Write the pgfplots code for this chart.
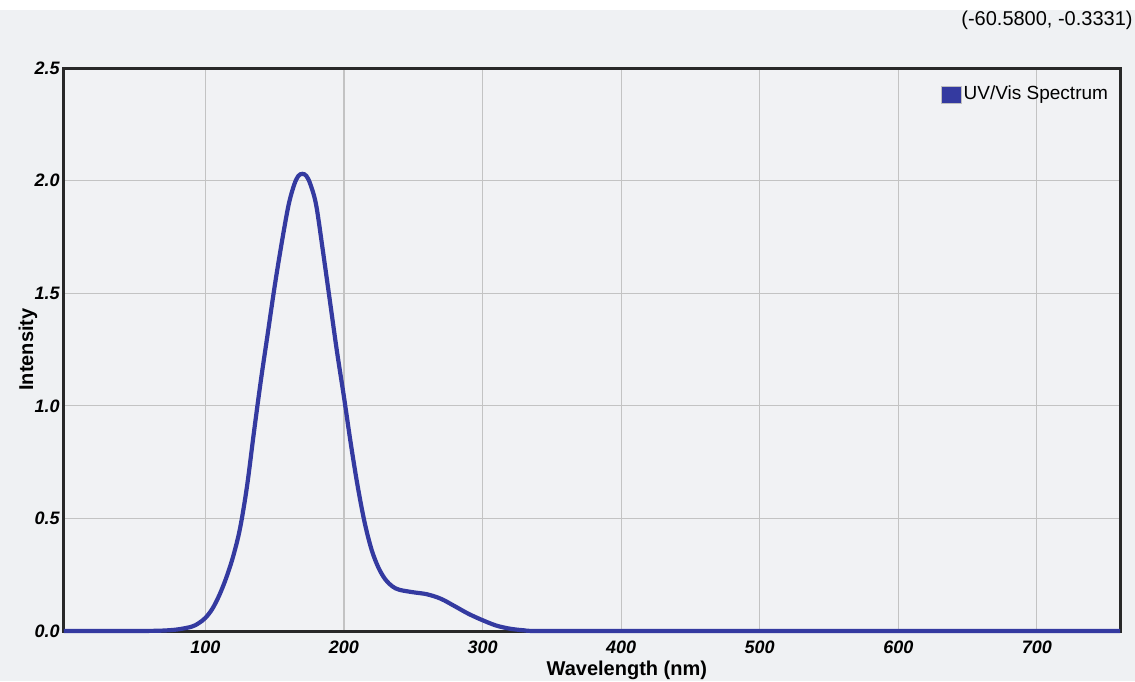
\documentclass[border=0pt]{standalone}
\usepackage{fontspec}
\setmainfont{Liberation Sans}
\usepackage{pgfplots}
\pgfplotsset{compat=1.18}

\definecolor{bgray}{RGB}{239,241,243}
\definecolor{plotbg}{RGB}{241,242,244}
\definecolor{uvblue}{RGB}{52,58,160}
\definecolor{gridgray}{RGB}{195,195,195}
\definecolor{axisdark}{RGB}{40,40,40}

\begin{document}
\begin{tikzpicture}
% page background (1 px = 0.5 pt)
\fill[white] (-32pt,-25pt) rectangle (535.5pt,315.5pt);
\fill[bgray] (-32pt,-25pt) rectangle (535.5pt,310.5pt);
\useasboundingbox (-32pt,-25pt) rectangle (535.5pt,315.5pt);

\begin{axis}[
    at={(0,0)}, anchor=south west,
    scale only axis,
    width=528pt, height=281.5pt,
    xmin=-2, xmax=760,
    ymin=0, ymax=2.5,
    xtick={100,200,...,700},
    ytick={0,0.5,...,2.5},
    major tick length=0pt,
    grid=major,
    grid style={gridgray, line width=0.6pt},
    axis line style={axisdark, line width=1.5pt},
    axis background/.style={fill=plotbg},
    clip=false,
    /pgf/number format/assume math mode=true,
    yticklabel style={/pgf/number format/fixed, /pgf/number format/fixed zerofill,
        /pgf/number format/precision=1, inner sep=0pt, xshift=-2pt, anchor=east},
    xticklabel style={inner sep=0pt, anchor=center, yshift=-8pt},
    tick label style={font=\fontsize{9}{10}\selectfont\bfseries\itshape},
    xlabel={Wavelength (nm)},
    ylabel={Intensity},
    xlabel style={at={(rel axis cs:0.533,0)}, anchor=center, yshift=-19.5pt,
        inner sep=0pt, font=\fontsize{10}{12}\selectfont\bfseries},
    ylabel style={at={(rel axis cs:0,0.5)}, anchor=center, yshift=18pt,
        inner sep=0pt, font=\fontsize{10}{12}\selectfont\bfseries},
    legend style={at={(rel axis cs:0.83,0.972)}, anchor=north west,
        draw=none, fill=none, inner sep=0pt,
        font=\fontsize{9.5}{11}\selectfont,
        nodes={inner sep=1pt}},
    legend image code/.code={
        \draw[fill=uvblue, draw=gray!50, line width=0.4pt] (0pt,-4.25pt) rectangle (10pt,4.25pt);
    },
]
\addplot[uvblue, line width=2.1pt, smooth, tension=0.55] coordinates {
    (-2,0) (40,0) (60,0.0005) (70,0.002) (80,0.007) (90,0.019) (95,0.034)
    (100,0.058) (105,0.098) (110,0.158) (115,0.235) (120,0.33) (125,0.455)
    (130,0.64) (135,0.88) (140,1.11) (145,1.32) (150,1.53) (155,1.72)
    (160,1.89) (164,1.98) (167,2.02) (170,2.03) (173,2.02) (176,1.98)
    (180,1.89) (185,1.68) (190,1.46) (195,1.24) (200,1.04) (205,0.83)
    (210,0.64) (215,0.48) (220,0.36) (225,0.28) (230,0.228) (235,0.198)
    (240,0.183) (250,0.172) (260,0.163) (270,0.143) (280,0.11) (290,0.076)
    (300,0.048) (310,0.024) (320,0.01) (330,0.003) (340,0) (400,0) (760,0)
};
\addlegendentry{UV/Vis Spectrum}
\end{axis}

\node[anchor=east, inner sep=0pt, font=\fontsize{10}{12}\selectfont] at (534.5pt,305.5pt) {(-60.5800, -0.3331)};
\end{tikzpicture}
\end{document}
